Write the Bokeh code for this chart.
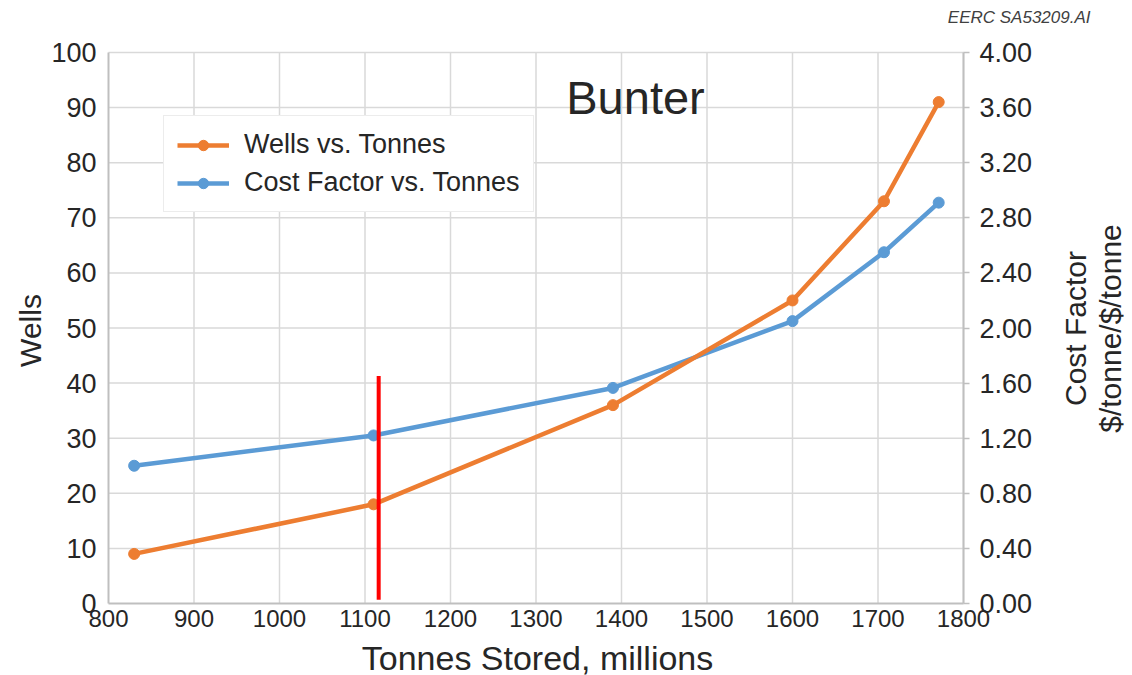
from bokeh.plotting import figure
from bokeh.models import (Range1d, LinearAxis, FixedTicker, NumeralTickFormatter,
                          Legend, LegendItem, Label, ColumnDataSource)
from bokeh.embed import file_html
from bokeh.resources import INLINE
import math

# ---- data ----
tonnes = [830, 1110, 1390, 1600, 1707, 1771]
wells = [9, 18, 36, 55, 73, 91]
cost_factor = [1.00, 1.22, 1.565, 2.05, 2.55, 2.91]
marker_tonnes = [1116, 1116]
marker_wells = [0.7, 41.3]

x_ticks = [800, 900, 1000, 1100, 1200, 1300, 1400, 1500, 1600, 1700, 1800]
wells_ticks = [0, 10, 20, 30, 40, 50, 60, 70, 80, 90, 100]
cost_ticks = [0.0, 0.4, 0.8, 1.2, 1.6, 2.0, 2.4, 2.8, 3.2, 3.6, 4.0]

ORANGE = "#ED7D31"
BLUE = "#5B9BD5"
TEXT = "#262626"
GRID = "#d9d9d9"
AXIS = "#bfbfbf"
FONT = "Liberation Sans"

# ---- layout: the frame fills the whole canvas; axes are pinned inside it ----
W, H = 1130, 675
PX_LEFT, PX_RIGHT, PX_TOP, PX_BOTTOM = 108, 963, 52, 603
X_MIN, X_MAX, Y_MIN, Y_MAX, C_MAX = 800, 1800, 0, 100, 4
kx = (PX_RIGHT - PX_LEFT) / (X_MAX - X_MIN)
ky = (PX_BOTTOM - PX_TOP) / (Y_MAX - Y_MIN)
x_lo = X_MIN - PX_LEFT / kx
x_hi = X_MIN + (W - PX_LEFT) / kx
y_lo = -(H - PX_BOTTOM) / ky
y_hi = PX_BOTTOM / ky
c_scale = C_MAX / Y_MAX


def dx(px):
    return X_MIN + (px - PX_LEFT) / kx


def dy(py):
    return (PX_BOTTOM - py) / ky


p = figure(width=W, height=H, output_backend="svg", toolbar_location=None,
           x_range=Range1d(x_lo, x_hi), y_range=Range1d(y_lo, y_hi),
           x_axis_location=None, y_axis_location=None,
           min_border=0, background_fill_color="white",
           border_fill_color="white", outline_line_color=None)
p.grid.visible = False
p.extra_y_ranges = {"cost": Range1d(y_lo * c_scale, y_hi * c_scale)}

# grid lines from tick lists
p.segment(x0=x_ticks[1:], y0=[Y_MIN] * (len(x_ticks) - 1), x1=x_ticks[1:],
          y1=[Y_MAX] * (len(x_ticks) - 1), line_color=GRID, line_width=1.5)
p.segment(x0=[X_MIN] * (len(wells_ticks) - 1), y0=wells_ticks[1:],
          x1=[X_MAX] * (len(wells_ticks) - 1), y1=wells_ticks[1:],
          line_color=GRID, line_width=1.5)

src_w = ColumnDataSource(dict(x=tonnes, y=wells))
src_c = ColumnDataSource(dict(x=tonnes, y=cost_factor))

rc_l = p.line("x", "y", source=src_c, y_range_name="cost", line_color=BLUE, line_width=4.5)
rc_s = p.scatter("x", "y", source=src_c, y_range_name="cost", size=11, color=BLUE)
rw_l = p.line("x", "y", source=src_w, line_color=ORANGE, line_width=4.5)
rw_s = p.scatter("x", "y", source=src_w, size=11, color=ORANGE)

p.line(marker_tonnes, marker_wells, line_color="#ff0000", line_width=4)


def style_axis(ax, size, standoff, tick_out=0):
    ax.axis_line_color = AXIS
    ax.axis_line_width = 2
    ax.major_tick_out = tick_out
    ax.major_tick_in = 0
    ax.major_tick_line_color = AXIS
    ax.major_tick_line_width = 1.5
    ax.minor_tick_out = 0
    ax.minor_tick_in = 0
    ax.major_label_standoff = standoff
    ax.major_label_text_font = FONT
    ax.major_label_text_font_size = size
    ax.major_label_text_color = TEXT


xa = LinearAxis(fixed_location=Y_MIN, bounds=(X_MIN, X_MAX), ticker=FixedTicker(ticks=x_ticks))
style_axis(xa, "24px", 6)
p.add_layout(xa, "below")

ya = LinearAxis(fixed_location=X_MIN, bounds=(Y_MIN, Y_MAX), ticker=FixedTicker(ticks=wells_ticks))
style_axis(ya, "27px", 12)
p.add_layout(ya, "left")

ra = LinearAxis(y_range_name="cost", fixed_location=X_MAX, bounds=(0, C_MAX),
                ticker=FixedTicker(ticks=cost_ticks),
                formatter=NumeralTickFormatter(format="0.00"))
style_axis(ra, "27px", 10, tick_out=6)
p.add_layout(ra, "right")

# legend
legend = Legend(items=[LegendItem(label="Wells vs. Tonnes", renderers=[rw_l, rw_s]),
                       LegendItem(label="Cost Factor vs. Tonnes", renderers=[rc_l, rc_s])],
                location=(163, H - 212), orientation="vertical")
legend.label_text_font = FONT
legend.label_text_font_size = "27px"
legend.label_text_color = TEXT
legend.glyph_width = 52
legend.glyph_height = 26
legend.label_height = 26
legend.label_standoff = 15
legend.spacing = 7
legend.padding = 13
legend.margin = 0
legend.border_line_color = GRID
legend.border_line_width = 1.5
legend.background_fill_color = "white"
legend.background_fill_alpha = 1
p.add_layout(legend, "center")

# text annotations
p.add_layout(Label(x=dx(635), y=dy(97), text="Bunter", text_align="center", text_baseline="middle",
                   text_font=FONT, text_font_size="47px", text_color=TEXT))
p.add_layout(Label(x=dx(1090), y=dy(17), text="EERC SA53209.AI", text_align="right",
                   text_baseline="middle", text_font=FONT, text_font_size="17px",
                   text_font_style="italic", text_color="#404040"))
p.add_layout(Label(x=dx(30), y=dy(330), text="Wells", angle=math.pi / 2, text_align="center",
                   text_baseline="middle", text_font=FONT, text_font_size="30px",
                   text_color=TEXT))
p.add_layout(Label(x=dx(537), y=dy(657), text="Tonnes Stored, millions", text_align="center",
                   text_baseline="middle", text_font=FONT, text_font_size="34px",
                   text_color=TEXT))
p.add_layout(Label(x=dx(1075), y=dy(328), text="Cost Factor", angle=math.pi / 2, text_align="center",
                   text_baseline="middle", text_font=FONT, text_font_size="30px",
                   text_color=TEXT))
p.add_layout(Label(x=dx(1110), y=dy(328), text="$/tonne/$/tonne", angle=math.pi / 2,
                   text_align="center", text_baseline="middle", text_font=FONT,
                   text_font_size="30px", text_color=TEXT))

open("out.html", "w").write(file_html(p, INLINE))
